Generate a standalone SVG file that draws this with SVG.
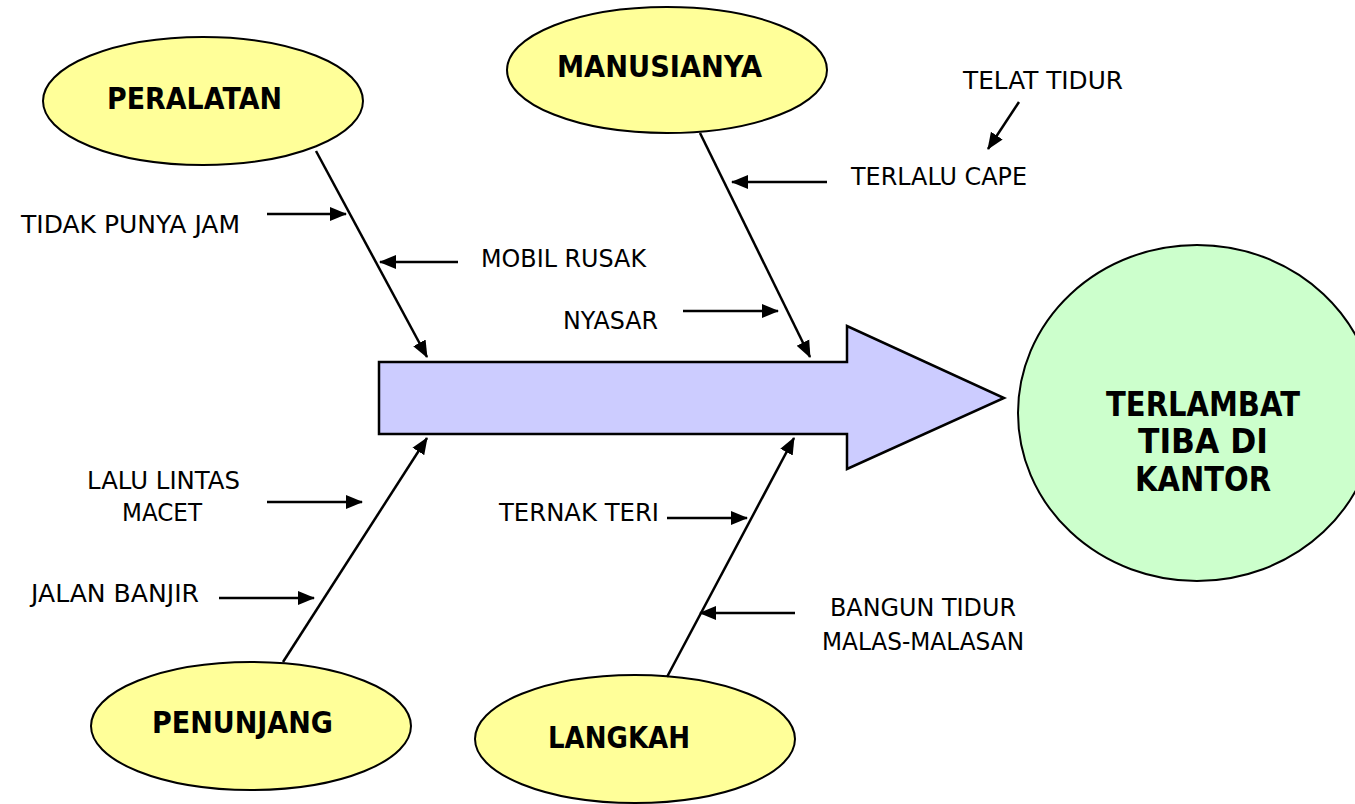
<svg xmlns="http://www.w3.org/2000/svg" width="1355" height="804" viewBox="0 0 1355 804">
<style>
.oval{fill:#FFFF99;stroke:#000;stroke-width:2}
.goal{fill:#CCFFCC;stroke:#000;stroke-width:2}
.spine{fill:#CCCCFF;stroke:#000;stroke-width:2.5}
.ln{stroke:#000;stroke-width:2.5;fill:none;marker-end:url(#ah)}
.t{font-family:"DejaVu Sans","Liberation Sans",sans-serif;font-size:25.5px;fill:#000}
.b{font-family:"DejaVu Sans","Liberation Sans",sans-serif;font-size:29.5px;font-weight:bold;fill:#000}
.bc{font-family:"DejaVu Sans","Liberation Sans",sans-serif;font-size:33px;font-weight:bold;fill:#000;text-anchor:middle}
</style>
<defs>
<marker id="ah" markerUnits="userSpaceOnUse" markerWidth="18" markerHeight="16" refX="16" refY="8" orient="auto">
<path d="M0,1 L17,8 L0,15 z" fill="#000"/>
</marker>
</defs>
<g id="spine">
<path class="spine" d="M379,362 L847,362 L847,326 L1004,398 L847,469 L847,434 L379,434 Z"/>
</g>
<g id="peralatan">
<ellipse class="oval" cx="203" cy="101" rx="160" ry="64"/>
<text class="b" x="107" y="109" textLength="175" lengthAdjust="spacingAndGlyphs">PERALATAN</text>
</g>
<g id="manusianya">
<ellipse class="oval" cx="667" cy="70" rx="160" ry="63"/>
<text class="b" x="557" y="77" textLength="205" lengthAdjust="spacingAndGlyphs">MANUSIANYA</text>
</g>
<g id="penunjang">
<ellipse class="oval" cx="251" cy="726" rx="160" ry="64"/>
<text class="b" x="152" y="733" textLength="181" lengthAdjust="spacingAndGlyphs">PENUNJANG</text>
</g>
<g id="langkah">
<ellipse class="oval" cx="635" cy="739" rx="160" ry="64"/>
<text class="b" x="548" y="748" textLength="142" lengthAdjust="spacingAndGlyphs">LANGKAH</text>
</g>
<g id="terlambat">
<ellipse class="goal" cx="1197" cy="413" rx="179" ry="168"/>
<text class="bc" x="1203" y="416" textLength="194" lengthAdjust="spacingAndGlyphs">TERLAMBAT</text>
<text class="bc" x="1203" y="453" textLength="130" lengthAdjust="spacingAndGlyphs">TIBA DI</text>
<text class="bc" x="1203" y="491" textLength="136" lengthAdjust="spacingAndGlyphs">KANTOR</text>
</g>
<g id="labels">
<text class="t" x="21" y="233" textLength="219" lengthAdjust="spacingAndGlyphs">TIDAK PUNYA JAM</text>
<text class="t" x="481" y="267" textLength="165" lengthAdjust="spacingAndGlyphs">MOBIL RUSAK</text>
<text class="t" x="563" y="329" textLength="95" lengthAdjust="spacingAndGlyphs">NYASAR</text>
<text class="t" x="851" y="185" textLength="176" lengthAdjust="spacingAndGlyphs">TERLALU CAPE</text>
<text class="t" x="963" y="89" textLength="160" lengthAdjust="spacingAndGlyphs">TELAT TIDUR</text>
<text class="t" x="87" y="489" textLength="153" lengthAdjust="spacingAndGlyphs">LALU LINTAS</text>
<text class="t" x="122" y="521" textLength="80" lengthAdjust="spacingAndGlyphs">MACET</text>
<text class="t" x="31" y="602" textLength="168" lengthAdjust="spacingAndGlyphs">JALAN BANJIR</text>
<text class="t" x="499" y="521" textLength="160" lengthAdjust="spacingAndGlyphs">TERNAK TERI</text>
<text class="t" x="830" y="616" textLength="186" lengthAdjust="spacingAndGlyphs">BANGUN TIDUR</text>
<text class="t" x="822" y="650" textLength="202" lengthAdjust="spacingAndGlyphs">MALAS-MALASAN</text>
</g>
<g id="connectors">
<line class="ln" x1="316" y1="151" x2="427" y2="357"/>
<line class="ln" x1="700" y1="133" x2="810" y2="357"/>
<line class="ln" x1="283" y1="662" x2="427" y2="438"/>
<line class="ln" x1="667" y1="677" x2="794" y2="438"/>
<line class="ln" x1="267" y1="214" x2="346" y2="214"/>
<line class="ln" x1="458" y1="262" x2="380" y2="262"/>
<line class="ln" x1="683" y1="311" x2="778" y2="311"/>
<line class="ln" x1="827" y1="182" x2="732" y2="182"/>
<line class="ln" x1="1019" y1="102" x2="988" y2="149"/>
<line class="ln" x1="267" y1="502" x2="362" y2="502"/>
<line class="ln" x1="219" y1="598" x2="314" y2="598"/>
<line class="ln" x1="667" y1="518" x2="747" y2="518"/>
<line class="ln" x1="795" y1="613" x2="700" y2="613"/>
</g>
</svg>
